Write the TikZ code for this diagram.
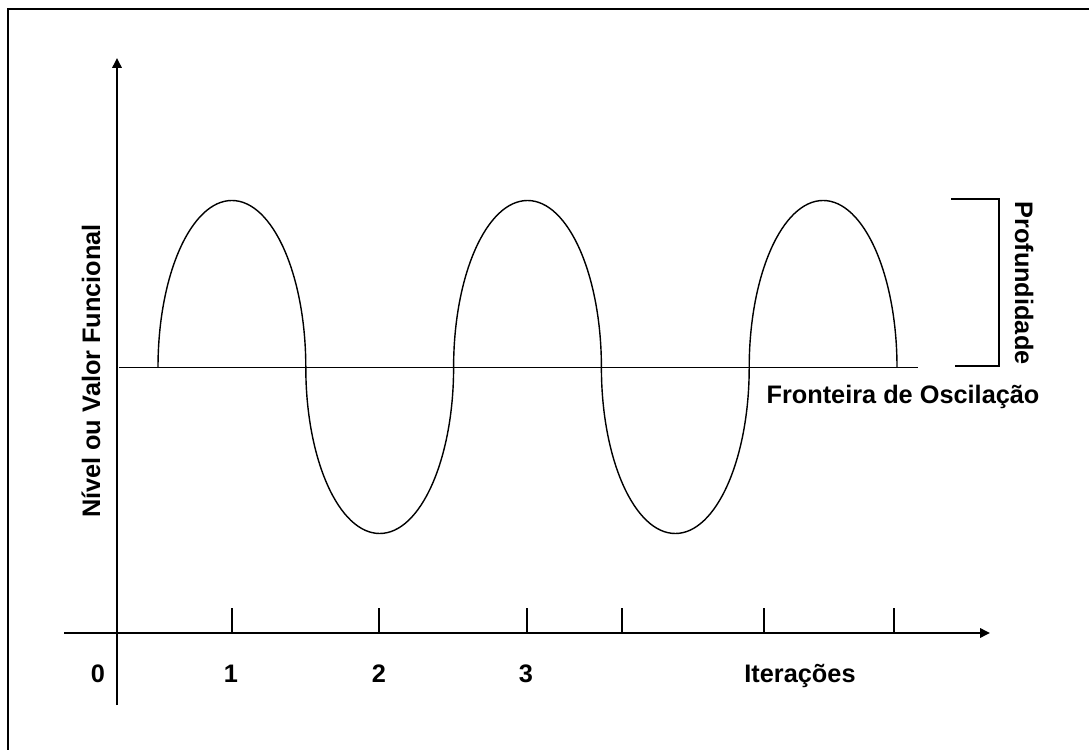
\documentclass[tikz,border=0pt]{standalone}
\usepackage{fontspec}
\setmainfont{Liberation Sans}
\usepackage{tikz}
\usetikzlibrary{arrows.meta}

\begin{document}
\begin{tikzpicture}[x=0.025cm, y=0.025cm,
    eixo/.style = {line width=1.8pt, -{Triangle[length=7pt, width=6.5pt]}},
    fino/.style = {line width=1pt},
    rotulo/.style = {font=\fontsize{18}{20}\selectfont\bfseries, inner sep=0pt, anchor=base}]

            \useasboundingbox (0,0) rectangle (1089,749);
            \clip (0,0) rectangle (1089,749);

            % moldura
            \draw[line width=1.8pt] (8,-20) -- (8,740) -- (1120,740);

            % eixos
            \coordinate (y0) at (117,44);
            \coordinate (y1) at (117,691);
            \coordinate (x0) at (64,116);
            \coordinate (x1) at (990,116);
            \draw[eixo] (y0) -- (y1);
            \draw[eixo] (x0) -- (x1);

            % marcas
            \foreach \t in {232, 379, 527, 622, 764, 894}
                \draw[fino] (\t,116) -- (\t,141);

            % fronteira de oscilacao
            \coordinate (f0) at (119,381.5);
            \coordinate (f1) at (918,381.5);
            \draw[fino] (f0) -- (f1);

            % curva
            \draw[fino] (158,381.5)
                arc[start angle=180, end angle=0, x radius=73.9, y radius=167]
                arc[start angle=180, end angle=360, x radius=73.9, y radius=166]
                arc[start angle=180, end angle=0, x radius=73.9, y radius=167]
                arc[start angle=180, end angle=360, x radius=73.9, y radius=166]
                arc[start angle=180, end angle=0, x radius=73.9, y radius=167];

            % profundidade
            \coordinate (p0) at (951,550);
            \coordinate (p1) at (999,550);
            \coordinate (p2) at (999,383);
            \coordinate (p3) at (955,383);
            \draw[fino] (p0) -- (p1) -- (p2) -- (p3);

            \node[rotulo] (l0) at (98,67) {0};
            \node[rotulo] (l1) at (231,67) {1};
            \node[rotulo] (l2) at (379,67) {2};
            \node[rotulo] (l3) at (526,67) {3};
            \node[rotulo] (iter) at (800,67) {Iterações};
            \node[rotulo] (front) at (903,345) {Fronteira de Oscilação};
            \node[rotulo, rotate=-90] (prof) at (1015,466) {Profundidade};
            \node[rotulo, rotate=90] (nivel) at (100,378) {Nível ou Valor Funcional};
        \end{tikzpicture}
\end{document}
